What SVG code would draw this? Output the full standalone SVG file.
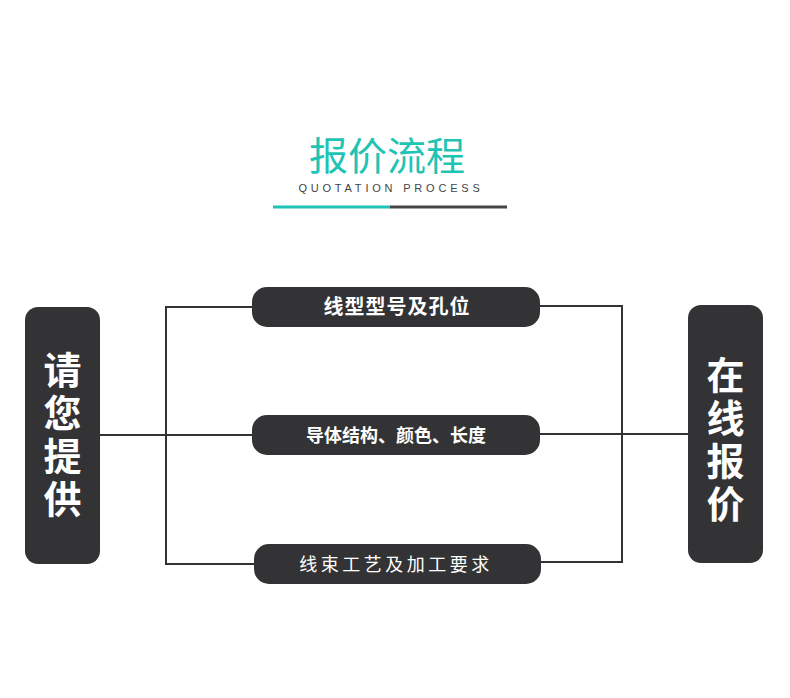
<svg xmlns="http://www.w3.org/2000/svg" width="790" height="698" viewBox="0 0 790 698">
<style>
.box{fill:#333335}
.big{font-family:"Noto Sans CJK SC","Noto Sans",sans-serif;font-size:38px;font-weight:700;fill:#fff;writing-mode:vertical-rl;letter-spacing:5px}
.pill{font-family:"Noto Sans CJK SC","Noto Sans",sans-serif;font-size:18px;fill:#fff;text-anchor:middle}
.ln{stroke:#333335;stroke-width:2;fill:none}
</style>
<rect width="790" height="698" fill="#fff"/>
<g id="title">
<text x="387" y="170" font-family="Noto Sans CJK SC,Noto Sans,sans-serif" font-size="39" fill="#1fc4b4" text-anchor="middle">报价流程</text>
<text x="391" y="192" font-family="Liberation Sans,Arial,sans-serif" font-size="11" letter-spacing="3.8" fill="#444" text-anchor="middle">QUOTATION PROCESS</text>
<rect x="273" y="205.5" width="117" height="3" fill="#1fc4b4"/>
<rect x="390" y="205.5" width="117" height="3" fill="#444"/>
</g>
<g id="connectors">
<polyline class="ln" points="252,307 166,307 166,564 254,564"/>
<line class="ln" x1="100" y1="435" x2="252" y2="435"/>
<polyline class="ln" points="540,306 622,306 622,562 541,562"/>
<line class="ln" x1="540" y1="434" x2="688" y2="434"/>
</g>
<g id="left">
<rect class="box" x="25" y="307" width="75" height="257" rx="13"/>
<text class="big" x="62.5" y="351">请您提供</text>
</g>
<g id="right">
<rect class="box" x="688" y="305" width="75" height="258" rx="13"/>
<text class="big" x="725.5" y="356">在线报价</text>
</g>
<g id="pill1">
<rect class="box" x="252" y="287" width="288" height="40" rx="15"/>
<text class="pill" x="397" y="314" style="font-size:20px;font-weight:700" letter-spacing="1">线型型号及孔位</text>
</g>
<g id="pill2">
<rect class="box" x="252" y="415" width="288" height="40" rx="15"/>
<text class="pill" x="396" y="442" font-weight="700">导体结构、颜色、长度</text>
</g>
<g id="pill3">
<rect class="box" x="254" y="544" width="287" height="40" rx="15"/>
<text class="pill" x="396" y="571" letter-spacing="3.5">线束工艺及加工要求</text>
</g>
</svg>
